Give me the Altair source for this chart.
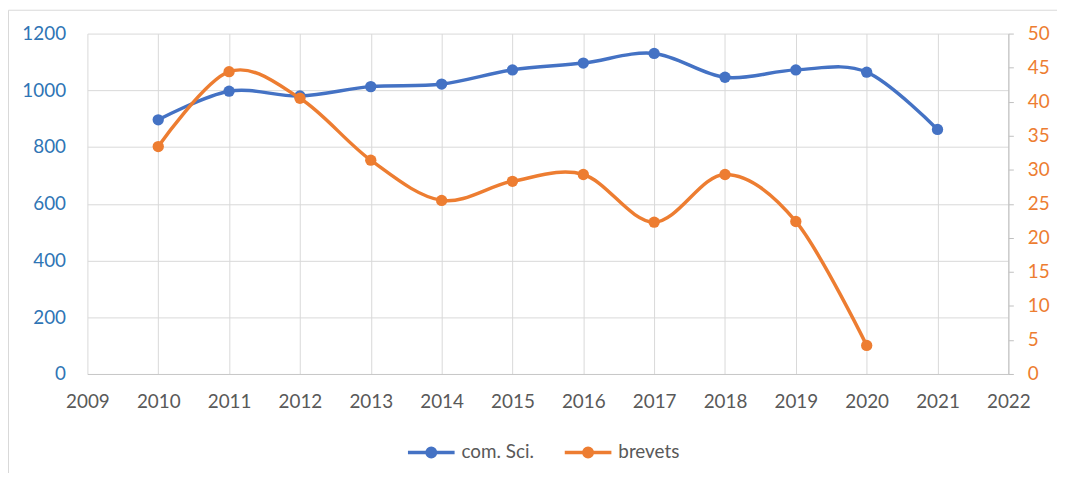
import altair as alt
import pandas as pd

series_names = ["com. Sci.", "brevets"]
series_colors = ["#4472C4", "#ED7D31"]

sci_years = [2010, 2011, 2012, 2013, 2014, 2015, 2016, 2017, 2018, 2019, 2020, 2021]
sci_values = [896, 997, 980, 1013, 1022, 1072, 1096, 1130, 1046, 1072, 1064, 862]

brev_years = [2010, 2011, 2012, 2013, 2014, 2015, 2016, 2017, 2018, 2019, 2020]
brev_values = [33.4, 44.4, 40.5, 31.4, 25.5, 28.3, 29.3, 22.3, 29.3, 22.4, 4.2]

x_ticks = list(range(2009, 2023))
left_ticks = [0, 200, 400, 600, 800, 1000, 1200]
right_ticks = [0, 5, 10, 15, 20, 25, 30, 35, 40, 45, 50]

FONT = "Lato"
FS = 19

df_sci = pd.DataFrame({"year": sci_years, "value": sci_values, "series": series_names[0]})
df_brev = pd.DataFrame({"year": brev_years, "value": brev_values, "series": series_names[1]})

color = alt.Color(
    "series:N",
    scale=alt.Scale(domain=series_names, range=series_colors),
    legend=alt.Legend(
        title=None,
        orient="none",
        legendX=321,
        legendY=396.5,
        direction="horizontal",
        symbolType="M -1,0 L 1,0 M -0.0745,0 A 0.0745,0.0745 0 1,0 0.0745,0 A 0.0745,0.0745 0 1,0 -0.0745,0 M -0.181,0 A 0.181,0.181 0 1,0 0.181,0 A 0.181,0.181 0 1,0 -0.181,0",
        symbolSize=2209,
        symbolStrokeWidth=3.5,
        labelFont=FONT,
        labelFontSize=FS,
        labelColor="#595959",
        labelOffset=5,
        columnPadding=23,
        padding=0,
    ),
)

x_enc = alt.X(
    "year:Q",
    scale=alt.Scale(domain=[2009, 2022], nice=False, zero=False),
    axis=alt.Axis(
        title=None,
        values=x_ticks,
        format="d",
        grid=True,
        gridColor="#D9D9D9",
        ticks=False,
        domainColor="#C8C8C8",
        domainWidth=1,
        labelFont=FONT,
        labelFontSize=FS,
        labelColor="#595959",
        labelPadding=19,
        labelFlush=False,
        labelOverlap=False,
    ),
)

frame = alt.Chart(pd.DataFrame({"a": [0]})).mark_rect(
    fill=None, stroke="#D9D9D9", strokeWidth=1
).encode(
    x=alt.value(-79.5), x2=alt.value(1500), y=alt.value(-23.5), y2=alt.value(1000)
)

sci = alt.Chart(df_sci).mark_line(
    interpolate="cardinal",
    strokeWidth=3.5,
    point=alt.OverlayMarkDef(filled=True, size=130, opacity=1),
).encode(
    x=x_enc,
    y=alt.Y(
        "value:Q",
        scale=alt.Scale(domain=[0, 1200], nice=False),
        axis=alt.Axis(
            title=None,
            orient="left",
            values=left_ticks,
            format="d",
            grid=True,
            gridColor="#D9D9D9",
            ticks=False,
            domain=False,
            labelFont=FONT,
            labelFontSize=FS,
            labelColor="#2F75B5",
            labelPadding=22,
        ),
    ),
    color=color,
)

brev = alt.Chart(df_brev).mark_line(
    interpolate="cardinal",
    strokeWidth=3.5,
    point=alt.OverlayMarkDef(filled=True, size=130, opacity=1),
).encode(
    x=x_enc,
    y=alt.Y(
        "value:Q",
        scale=alt.Scale(domain=[0, 50], nice=False),
        axis=alt.Axis(
            title=None,
            orient="right",
            values=right_ticks,
            grid=False,
            ticks=True,
            tickSize=5,
            tickColor="#BFBFBF",
            domain=True,
            domainColor="#BFBFBF",
            labelFont=FONT,
            labelFontSize=FS,
            labelColor="#ED7D31",
            labelPadding=14,
        ),
    ),
    color=color,
)

chart = alt.layer(frame, sci, brev).resolve_scale(y="independent").properties(
    width=928,
    height=343,
    autosize=alt.AutoSizeParams(type="none"),
    padding={"left": 80, "top": 24, "right": 49, "bottom": 98},
    background="white",
).configure_view(stroke=None)

chart.save("out.html", embed_options={"renderer": "svg", "actions": False})
